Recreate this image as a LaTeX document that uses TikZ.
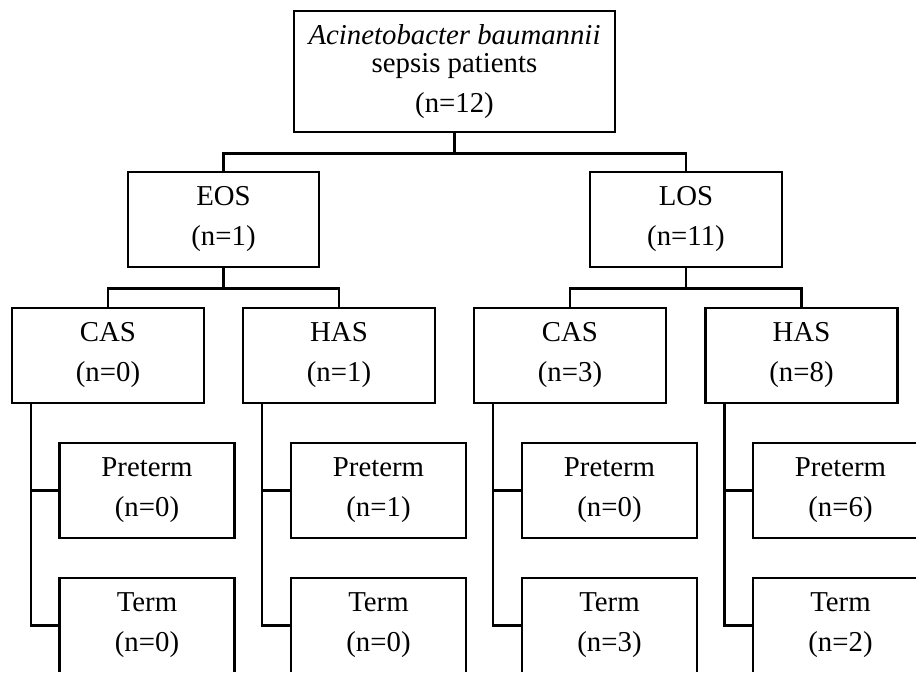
\documentclass[tikz,border=0pt]{standalone}
\usepackage{fontspec}
\setmainfont{Liberation Serif}
\begin{document}
\begin{tikzpicture}[x=1pt,y=-1pt,
  line width=2.5pt,
  box/.style={draw, rectangle, inner sep=0pt, align=center,
    font=\fontsize{28.8}{40}\selectfont},
  topbox/.style={box, minimum width=321pt, minimum height=121pt,
    font=\fontsize{28.8}{28}\selectfont},
  lvbox/.style={box, minimum width=192pt, minimum height=95pt},
  leafbox/.style={box, minimum width=175pt, minimum height=95pt},
  link/.style={draw, line width=2.5pt}]
\useasboundingbox (0,0) rectangle (916,673);
\clip (0,0) rectangle (916,671.5);

\node[topbox] (top) at (454.5,71.5)
  {\textit{Acinetobacter baumannii}\\sepsis patients\\[12pt](n=12)};

\node[lvbox, minimum width=191pt] (eos) at (223.5,219.5) {EOS\\(n=1)};
\node[lvbox] (los) at (686,219.5) {LOS\\(n=11)};

\node[lvbox] (cas1) at (108,355.5) {CAS\\(n=0)};
\node[lvbox] (has1) at (339,355.5) {HAS\\(n=1)};
\node[lvbox] (cas2) at (570,355.5) {CAS\\(n=3)};
\node[lvbox] (has2) at (801.5,355.5) {HAS\\(n=8)};

\node[leafbox] (pre1) at (147,490.5) {Preterm\\(n=0)};
\node[leafbox] (pre2) at (378.5,490.5) {Preterm\\(n=1)};
\node[leafbox] (pre3) at (609.5,490.5) {Preterm\\(n=0)};
\node[leafbox] (pre4) at (840.5,490.5) {Preterm\\(n=6)};

\node[leafbox] (term1) at (147,625.5) {Term\\(n=0)};
\node[leafbox] (term2) at (378.5,625.5) {Term\\(n=0)};
\node[leafbox] (term3) at (609.5,625.5) {Term\\(n=3)};
\node[leafbox] (term4) at (840.5,625.5) {Term\\(n=2)};

% top level
\draw[link] (top.south) -- ++(0,20) -| (eos.north);
\draw[link] (top.south) ++(0,20) -| (los.north);
% second level
\draw[link] (eos.south) -- ++(0,20) -| (cas1.north);
\draw[link] (eos.south) ++(0,20) -| (has1.north);
\draw[link] (los.south) -- ++(0,20) -| (cas2.north);
\draw[link] (los.south) ++(0,20) -| (has2.north);
% leaves
\foreach \p/\a/\b in {cas1/pre1/term1, has1/pre2/term2, cas2/pre3/term3, has2/pre4/term4}{
  \draw[link] ([xshift=20pt]\p.south west) |- (\a.west);
  \draw[link] ([xshift=20pt]\p.south west) |- (\b.west);
}
\end{tikzpicture}
\end{document}
